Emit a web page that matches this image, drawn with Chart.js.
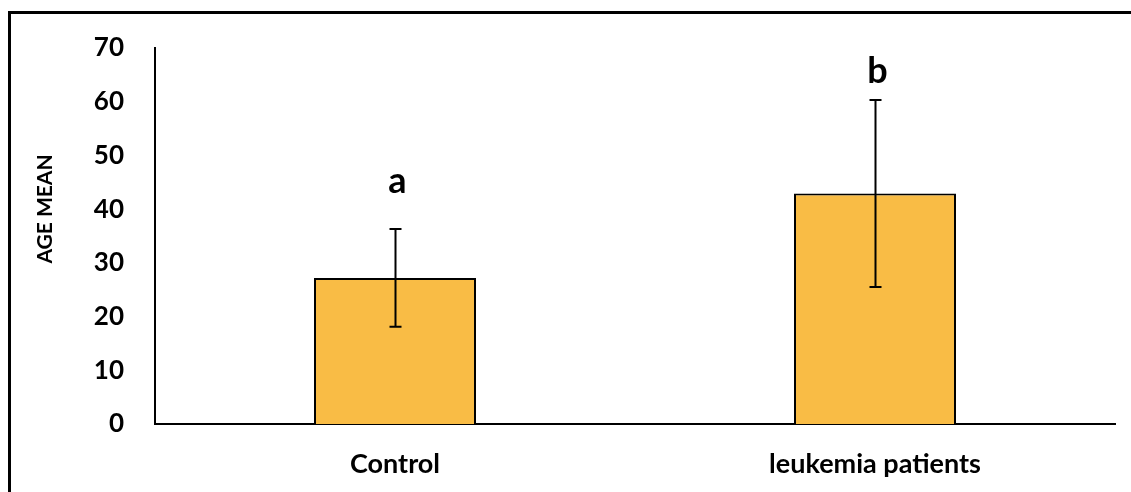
<!DOCTYPE html>
<html>
<head>
<meta charset="utf-8">
<script src="https://cdn.jsdelivr.net/npm/chart.js@4/dist/chart.umd.min.js"></script>
<style>
  html, body { margin: 0; padding: 0; background: #fff; overflow: hidden; }
  #frame {
    position: absolute; left: 8px; top: 11px; width: 1200px; height: 600px;
    border-left: 3px solid #000; border-top: 3px solid #000; box-sizing: border-box;
  }
  #wrap { position: absolute; left: 0; top: 0; width: 1131px; height: 492px; }
</style>
</head>
<body>
<div id="frame"></div>
<div id="wrap"><canvas id="c" width="1131" height="492"></canvas></div>
<script>
// Group labels, mean age, standard deviation and significance letters
const categories = ['Control', 'leukemia patients'];
const ageMean = [27.2, 42.9];
const ageSD = [9.1, 17.4];
const sigLetters = ['a', 'b'];
const yTicks = [0, 10, 20, 30, 40, 50, 60, 70];
const yTitle = 'AGE MEAN';

const FONT = 'Lato, "Open Sans", sans-serif';

// Error bars, significance letters and the rotated y-axis title
const errorBarPlugin = {
  id: 'errorBars',
  afterDatasetsDraw(chart, args, opts) {
    const ctx = chart.ctx;
    const yScale = chart.scales.y;
    const meta = chart.getDatasetMeta(0);
    ctx.save();
    meta.data.forEach((bar, i) => {
      const x = Math.round(bar.x) + 0.5;
      const yHi = yScale.getPixelForValue(ageMean[i] + ageSD[i]);
      const yLo = yScale.getPixelForValue(ageMean[i] - ageSD[i]);
      ctx.strokeStyle = '#000';
      ctx.lineWidth = 2;
      ctx.beginPath();
      ctx.moveTo(x, yHi); ctx.lineTo(x, yLo);
      ctx.moveTo(x - opts.cap, yHi); ctx.lineTo(x + opts.cap, yHi);
      ctx.moveTo(x - opts.cap, yLo); ctx.lineTo(x + opts.cap, yLo);
      ctx.stroke();

      ctx.fillStyle = '#000';
      ctx.font = 'bold 36px ' + FONT;
      ctx.textAlign = 'center';
      ctx.textBaseline = 'alphabetic';
      ctx.fillText(sigLetters[i], x + 2, yHi - opts.letterGap[i]);
    });

    // y-axis title, a little above the middle of the plot height
    const area = chart.chartArea;
    ctx.translate(opts.titleX, (area.top + area.bottom) / 2);
    ctx.rotate(-Math.PI / 2);
    ctx.font = 'bold 21px ' + FONT;
    ctx.textAlign = 'center';
    ctx.textBaseline = 'middle';
    ctx.fillStyle = '#000';
    ctx.fillText(yTitle, 27, 0);
    ctx.restore();
  }
};

new Chart(document.getElementById('c'), {
  type: 'bar',
  data: {
    labels: categories,
    datasets: [{
      data: ageMean,
      backgroundColor: '#F9BC45',
      borderColor: '#000',
      borderWidth: 2,
      borderSkipped: 'bottom',
      categoryPercentage: 1,
      barPercentage: 0.3375
    }]
  },
  options: {
    responsive: false,
    animation: false,
    devicePixelRatio: 1,
    layout: { padding: { left: 0, right: 16, top: 48, bottom: 0 } },
    plugins: {
      legend: { display: false },
      tooltip: { enabled: false },
      errorBars: { cap: 6, letterGap: [36, 17], titleX: 45 }
    },
    scales: {
      x: {
        grid: { display: false, drawTicks: false },
        border: { display: true, color: '#000', width: 2 },
        ticks: {
          color: '#000',
          padding: 24,
          font: { family: FONT, size: 27, weight: 'bold' }
        },
        afterFit(scale) { scale.height = 68; }
      },
      y: {
        min: 0,
        max: 70,
        afterBuildTicks(scale) { scale.ticks = yTicks.map(v => ({ value: v })); },
        grid: { display: false, drawTicks: false },
        border: { display: true, color: '#000', width: 2 },
        ticks: {
          color: '#000',
          padding: 31,
          font: { family: FONT, size: 26, weight: 'bold' }
        },
        afterFit(scale) { scale.width = 155; }
      }
    }
  },
  plugins: [errorBarPlugin]
});
</script>
</body>
</html>
